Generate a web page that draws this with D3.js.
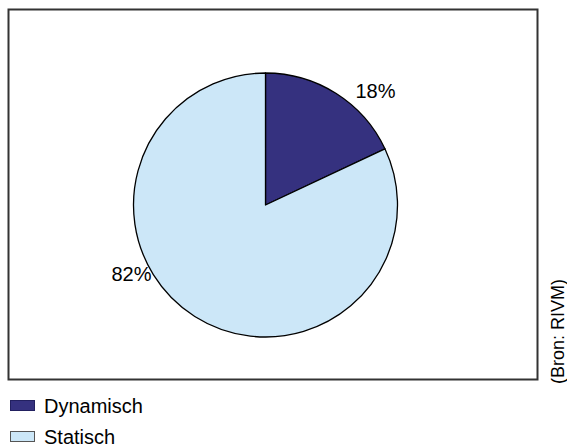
<!DOCTYPE html>
<html><head><meta charset="utf-8">
<script src="https://cdn.jsdelivr.net/npm/d3@7"></script>
<style>body{margin:0;background:#fff}svg{display:block}</style>
</head><body>
<svg id="c" width="567" height="446"></svg>
<script>
const categories = ["Dynamisch", "Statisch"];
const values = [18, 82];
const labels = ["18%", "82%"];
const colors = ["#35317f", "#cce7f8"];
const source = "(Bron: RIVM)";

const svg = d3.select("#c");
const font = "'Liberation Sans', Arial, sans-serif";

// frame
svg.append("rect").attr("x", 8.5).attr("y", 9.5).attr("width", 529).attr("height", 370)
  .attr("fill", "none").attr("stroke", "#333").attr("stroke-width", 2);

const cx = 265.5, cy = 205, r = 132;
const pie = d3.pie().sort(null).value(d => d)(values);
const arc = d3.arc().innerRadius(0).outerRadius(r);
const g = svg.append("g").attr("transform", `translate(${cx},${cy})`);
g.selectAll("path").data(pie).join("path")
  .attr("d", arc).attr("fill", (d, i) => colors[i])
  .attr("stroke", "#000").attr("stroke-width", 1.3).attr("stroke-linejoin", "round");

// labels outside
const lblPos = [[110, -107], [-134, 76]];
g.selectAll("text.lbl").data(pie).join("text").attr("class", "lbl")
  .attr("x", (d, i) => lblPos[i][0]).attr("y", (d, i) => lblPos[i][1])
  .attr("text-anchor", "middle")
  .attr("font-family", font).attr("font-size", 20).attr("fill", "#000")
  .text((d, i) => labels[i]);

// legend
const leg = svg.append("g");
categories.forEach((c, i) => {
  const y = 400 + i * 31;
  leg.append("rect").attr("x", 10.5).attr("y", y + 0.5).attr("width", 24).attr("height", 10)
    .attr("fill", colors[i]).attr("stroke", i === 0 ? "#222060" : "#555").attr("stroke-width", 1);
  leg.append("text").attr("x", 44).attr("y", y + 12.5)
    .attr("font-family", font).attr("font-size", 20).attr("fill", "#000").text(c);
});

// source
svg.append("text").attr("transform", "translate(564,384) rotate(-90)")
  .attr("font-family", font).attr("font-size", 18).attr("fill", "#000").text(source);
</script>
</body></html>
